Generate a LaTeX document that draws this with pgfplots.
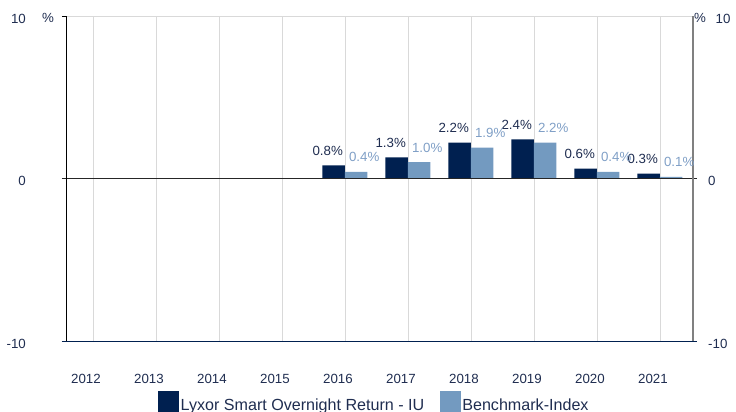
\documentclass[border=0pt]{standalone}
\usepackage{pgfplots}
\pgfplotsset{compat=1.18}
\usepackage{fontspec}
\setmainfont{Liberation Sans}
\definecolor{fund}{HTML}{002050}
\definecolor{bench}{HTML}{739AC0}
\definecolor{txt}{HTML}{1F2D50}
\definecolor{benchtxt}{HTML}{7F9FC6}
\definecolor{gridc}{HTML}{D9D9D9}
\definecolor{rightax}{HTML}{808080}
\begin{document}
\begin{tikzpicture}
\begin{axis}[
  scale only axis, width=627pt, height=325pt,
  xmin=-0.4286, xmax=9.524, ymin=-10, ymax=10,
  clip=false,
  axis line style={draw=none},
  xtick={0,1,2,3,4,5,6,7,8,9},
  xticklabels={2012,2013,2014,2015,2016,2017,2018,2019,2020,2021},
  xtick style={draw=none},
  xmajorgrids, grid style={gridc, line width=0.8pt},
  ytick={-10,0,10}, ytick pos=left, tick align=outside,
  major tick length=4pt, ytick style={black, line width=0.6pt},
  /pgf/number format/assume math mode=true,
  xticklabel style={font=\fontsize{13.3}{16}\selectfont, text=txt, anchor=base, yshift=-38pt, xshift=-7pt, inner sep=0pt},
  yticklabel style={font=\fontsize{13.3}{16}\selectfont, text=txt, anchor=east, inner sep=0pt, xshift=-36pt, yshift=-2.5pt},
  ybar, bar width=22.5pt,
  point meta=explicit symbolic,
  legend columns=2,
  legend style={draw=none, fill=none, inner sep=0pt, at={(0.1467,-0.1877)}, anchor=west,
    font=\fontsize{16.1}{18}\selectfont, text=txt,
    nodes={inner sep=1.5pt},
    /tikz/every even column/.append style={column sep=14pt}},
  legend cell align=left,
]
\addplot[bar shift=-11.25pt, fill=fund, draw=none,
  nodes near coords={\fontsize{13.3}{15}\selectfont\pgfplotspointmeta},
  nodes near coords style={text=txt, anchor=base, inner sep=0pt, yshift=10pt, xshift=-6pt},
  legend image code/.code={\fill[fund] (0pt,-7pt) rectangle (21pt,14pt);}]
  coordinates {(4,0.8) [0.8\%] (5,1.3) [1.3\%] (6,2.2) [2.2\%] (7,2.4) [2.4\%] (8,0.6) [0.6\%] (9,0.3) [0.3\%]};
\addlegendentry{Lyxor Smart Overnight Return - IU}
\addplot[bar shift=11.25pt, fill=bench, draw=none,
  nodes near coords={\fontsize{13.3}{15}\selectfont\pgfplotspointmeta},
  nodes near coords style={text=benchtxt, anchor=base, inner sep=0pt, yshift=10pt, xshift=8pt},
  legend image code/.code={\fill[bench] (0pt,-7pt) rectangle (21pt,14pt);}]
  coordinates {(4,0.4) [0.4\%] (5,1.0) [1.0\%] (6,1.9) [1.9\%] (7,2.2) [2.2\%] (8,0.4) [0.4\%] (9,0.1) [0.1\%]};
\addlegendentry{Benchmark-Index}
\draw[gridc, line width=0.8pt] (rel axis cs:0,1) -- (rel axis cs:1,1);
\draw[black!85, line width=0.8pt] ([xshift=-4pt]rel axis cs:0,0.5) -- ([xshift=4pt]rel axis cs:1,0.5);
\draw[fund, line width=0.8pt] ([xshift=-4pt]rel axis cs:0,0) -- ([xshift=4pt]rel axis cs:1,0);
\draw[black, line width=0.7pt] (rel axis cs:0,0) -- (rel axis cs:0,1);
\draw[rightax, line width=1.2pt] (rel axis cs:1,0) -- (rel axis cs:1,1);
\node[anchor=base west, inner sep=0pt, text=txt, font=\fontsize{13.3}{16}\selectfont] at ([xshift=-24pt,yshift=-7pt]rel axis cs:0,1) {\%};
\node[anchor=base west, inner sep=0pt, text=txt, font=\fontsize{13.3}{16}\selectfont] at ([xshift=1pt,yshift=-7pt]rel axis cs:1,1) {\%};
\end{axis}
\begin{axis}[
  scale only axis, width=627pt, height=325pt,
  xmin=-0.4286, xmax=9.524, ymin=-10, ymax=10,
  hide x axis, axis y line*=right,
  axis line style={draw=none},
  ytick={-10,0,10}, yticklabels={-10,0,\hphantom{0}10},
  ytick style={draw=none},
  yticklabel style={font=\fontsize{13.3}{16}\selectfont, text=txt, anchor=west, inner sep=0pt, xshift=15pt, yshift=-2.5pt},
]
\end{axis}
\pgfresetboundingbox
\path[use as bounding box] (-66pt,-71pt) rectangle (670pt,341pt);
\end{tikzpicture}
\end{document}
